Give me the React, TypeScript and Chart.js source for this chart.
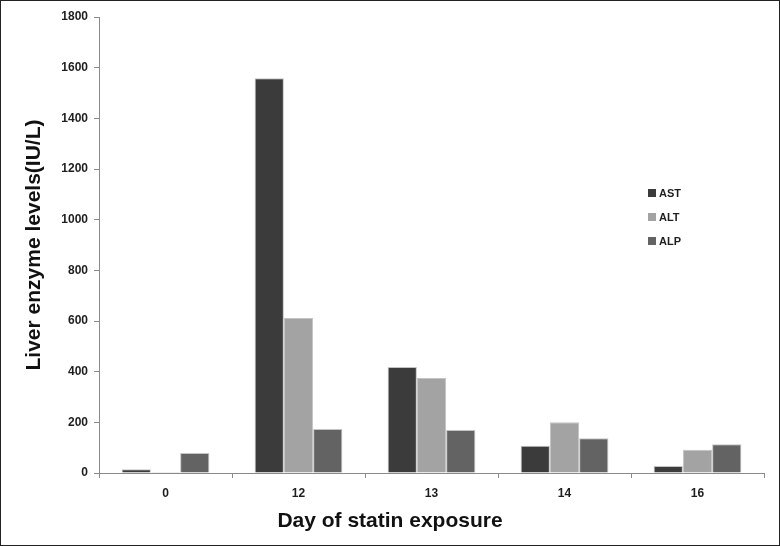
import React, { useEffect, useRef } from "react";
import { Chart, registerables } from "chart.js";

Chart.register(...registerables);

const categories = ["0", "12", "13", "14", "16"];
const astValues = [15, 1558, 418, 108, 28];
const altValues = [4, 612, 375, 200, 92];
const alpValues = [79, 174, 170, 137, 113];
const seriesNames = ["AST", "ALT", "ALP"];
const seriesColors = ["#3b3b3b", "#a3a3a3", "#636363"];
const yTitle = "Liver enzyme levels(IU/L)";
const xTitle = "Day of statin exposure";

const FONT = "'Liberation Sans', Arial, sans-serif";

const decorPlugin = {
  id: "decor",
  beforeDraw(chart: any) {
    const { ctx, width, height } = chart;
    ctx.save();
    ctx.fillStyle = "#ffffff";
    ctx.fillRect(0, 0, width, height);
    ctx.restore();
  },
  afterDraw(chart: any) {
    const { ctx, width, height } = chart;
    ctx.save();
    // legend
    const lx = 648;
    const ly0 = 189;
    const step = 24;
    ctx.font = `bold 11px ${FONT}`;
    ctx.textBaseline = "middle";
    ctx.textAlign = "left";
    chart.data.datasets.forEach((ds: any, i: number) => {
      const y = ly0 + i * step;
      ctx.fillStyle = ds.backgroundColor;
      ctx.fillRect(lx, y, 8, 8);
      ctx.fillStyle = "#1e1e1e";
      ctx.fillText(ds.label, lx + 11, y + 4.5);
    });
    // x axis title
    ctx.font = `bold 21px ${FONT}`;
    ctx.textAlign = "center";
    ctx.textBaseline = "alphabetic";
    ctx.fillStyle = "#111111";
    ctx.fillText(xTitle, width / 2, 527);
    // frame
    ctx.strokeStyle = "#222222";
    ctx.lineWidth = 1;
    ctx.strokeRect(0.5, 0.5, width - 1, height - 1);
    ctx.restore();
  },
};

export default function App() {
  const canvasRef = useRef<HTMLCanvasElement | null>(null);

  useEffect(() => {
    if (!canvasRef.current) return;
    const values = [astValues, altValues, alpValues];
    const chart = new Chart(canvasRef.current, {
      type: "bar",
      data: {
        labels: categories,
        datasets: seriesNames.map((name, i) => ({
          label: name,
          data: values[i],
          backgroundColor: seriesColors[i],
          borderColor: "rgba(190,190,190,0.9)",
          borderWidth: 1,
          categoryPercentage: 0.66,
          barPercentage: 1,
        })),
      },
      options: {
        animation: false,
        responsive: false,
        maintainAspectRatio: false,
        layout: { padding: { top: 17, right: 16, left: 0, bottom: 0 } },
        plugins: {
          legend: { display: false },
          tooltip: { enabled: false },
        },
        scales: {
          x: {
            afterFit: (s: any) => {
              s.height = 73;
            },
            grid: {
              display: true,
              drawOnChartArea: false,
              drawTicks: true,
              tickLength: 5,
              color: "#8a8a8a",
            },
            border: { display: true, color: "#8a8a8a", width: 1 },
            ticks: {
              padding: 8,
              color: "#1e1e1e",
              font: { family: FONT, size: 12, weight: "bold" },
            },
          },
          y: {
            min: 0,
            max: 1800,
            afterFit: (s: any) => {
              s.width = 99;
            },
            grid: {
              display: true,
              drawOnChartArea: false,
              drawTicks: true,
              tickLength: 5,
              color: "#8a8a8a",
            },
            border: { display: true, color: "#8a8a8a", width: 1 },
            ticks: {
              stepSize: 200,
              padding: 6,
              color: "#1e1e1e",
              font: { family: FONT, size: 12, weight: "bold" },
              callback: (v: any) => String(v),
            },
            title: {
              display: true,
              text: yTitle,
              color: "#111111",
              padding: { top: 22, bottom: 0 },
              font: { family: FONT, size: 21, weight: "bold" },
            },
          },
        },
      },
      plugins: [decorPlugin],
    });
    return () => chart.destroy();
  }, []);

  return (
    <div style={{ position: "absolute", left: 0, top: 0, width: 780, height: 546 }}>
      <canvas ref={canvasRef} width={780} height={546} style={{ display: "block" }} />
    </div>
  );
}
